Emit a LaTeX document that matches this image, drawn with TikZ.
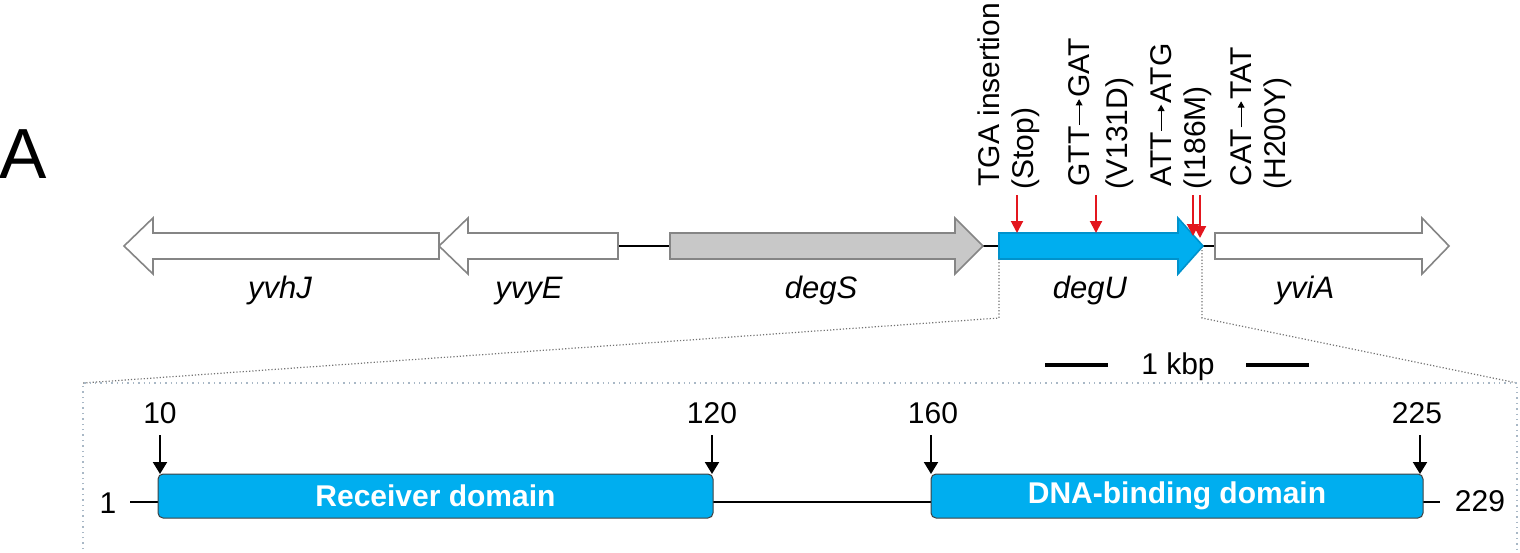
\documentclass[tikz,border=0pt]{standalone}
\usepackage{fontspec}
\setmainfont{Liberation Sans}
\usetikzlibrary{arrows.meta}
\definecolor{dblue}{HTML}{00AEEF}
\definecolor{dblueedge}{HTML}{0092CC}
\definecolor{mutred}{HTML}{E3161E}
\definecolor{genegray}{HTML}{C8C8C8}
\definecolor{edgegray}{HTML}{858585}
\definecolor{boxdot}{HTML}{A9B8C6}
\newcommand\mylongarr{\kern0.5pt\tikz[baseline=-0.33em]\draw[line width=0.55pt,-{Triangle[length=3.2pt,width=3.4pt]}] (0pt,0pt) -- (13pt,0pt);\kern0.5pt}
\tikzset{
  gene/.style={draw=edgegray, line width=0.8pt, fill=white, line join=miter},
  genelbl/.style={font=\fontsize{15.5}{18}\selectfont\itshape, anchor=base},
  mutlbl/.style={font=\fontsize{15}{18}\selectfont, rotate=90, anchor=base west, inner sep=0pt},
  mutarr/.style={draw=mutred, line width=1pt, -{Triangle[length=6pt,width=6pt]}},
  posarr/.style={draw=black, line width=1pt, -{Triangle[length=6pt,width=7pt]}},
  numlbl/.style={font=\fontsize{15}{18}\selectfont, anchor=base},
  domainbox/.style={draw=black!75, line width=0.5pt, fill=dblue, rounded corners=2.5pt,
    font=\fontsize{15}{18}\selectfont\bfseries, text=white, inner sep=0pt,
    minimum height=22pt},
  zoomline/.style={draw=black!55, line width=0.6pt, densely dotted},
  backbone/.style={draw=black, line width=1.3pt}
}
\begin{document}
\begin{tikzpicture}[x=0.5pt,y=-0.5pt]
\useasboundingbox (0,0) rectangle (1520,552);

% panel letter
\node[font=\fontsize{35.5}{40}\selectfont, anchor=base] (panelA) at (23,178) {A};

% gene backbone
\draw[backbone] (618,246) -- (1215,246);

% genes
\draw[gene] (439,233) -- (153,233) -- (153,218) -- (124,246) -- (153,274) -- (153,259) -- (439,259) -- cycle;
\draw[gene] (618,233) -- (468,233) -- (468,218) -- (439,246) -- (468,274) -- (468,259) -- (618,259) -- cycle;
\draw[gene, fill=genegray] (670,233) -- (955,233) -- (955,218) -- (983,246) -- (955,274) -- (955,259) -- (670,259) -- cycle;
\draw[gene, draw=dblueedge, fill=dblue] (999,233) -- (1178,233) -- (1178,218) -- (1203,246) -- (1178,274) -- (1178,259) -- (999,259) -- cycle;
\draw[gene] (1215,233) -- (1422,233) -- (1422,218) -- (1449,246) -- (1422,274) -- (1422,259) -- (1215,259) -- cycle;

% gene labels
\node[genelbl] (lyvhJ) at (280,298) {yvhJ};
\node[genelbl] (lyvyE) at (529,298) {yvyE};
\node[genelbl] (ldegS) at (821,298) {degS};
\node[genelbl] (ldegU) at (1090,298) {degU};
\node[genelbl] (lyviA) at (1305,298) {yviA};

% mutation labels
\node[mutlbl] (m1a) at (999,187) {TGA insertion};
\node[mutlbl] (m1b) at (1033,190) {(Stop)};
\node[mutlbl] (m2a) at (1089,187) {GTT\mylongarr GAT};
\node[mutlbl] (m2b) at (1127,190) {(V131D)};
\node[mutlbl] (m3a) at (1171,187) {ATT\mylongarr ATG};
\node[mutlbl] (m3b) at (1205,190) {(I186M)};
\node[mutlbl] (m4a) at (1251,187) {CAT\mylongarr TAT};
\node[mutlbl] (m4b) at (1285,190) {(H200Y)};

% mutation arrows
\coordinate (r1s) at (1017,195); \coordinate (r1e) at (1017,233);
\coordinate (r2s) at (1096,195); \coordinate (r2e) at (1096,233);
\coordinate (r3s) at (1193,195); \coordinate (r3e) at (1193,236);
\coordinate (r4s) at (1200,195); \coordinate (r4e) at (1200,238);
\draw[mutarr] (r1s) -- (r1e);
\draw[mutarr] (r2s) -- (r2e);
\draw[mutarr] (r3s) -- (r3e);
\draw[mutarr] (r4s) -- (r4e);

% zoom lines
\draw[zoomline] (999,259) -- (999,318) -- (83,383);
\draw[zoomline] (1202,250) -- (1202,318) -- (1517,383);

% scale bar
\draw[line width=1.6pt] (1045,365) -- (1108,365);
\draw[line width=1.6pt] (1246,365) -- (1309,365);
\node[numlbl] (kbp) at (1178,374) {1 kbp};

% inset frame
\draw[draw=boxdot, line width=0.7pt, dotted] (83,560) -- (83,383) -- (1517,383) -- (1517,560);

% domain backbone
\node[numlbl] (n1) at (108,513) {1};
\node[numlbl] (n229) at (1480,511) {229};
\draw[backbone] (130,502) -- (1440,502);

% domains
\node[domainbox, minimum width=277.5pt] (rec) at (435.5,496) {Receiver domain};
\node[domainbox, minimum width=246pt] (dna) at (1177,496) {DNA-binding domain};

% position labels and arrows
\node[numlbl] (n10) at (160,423) {10};
\node[numlbl] (n120) at (712,423) {120};
\node[numlbl] (n160) at (933,423) {160};
\node[numlbl] (n225) at (1417,423) {225};
\coordinate (a10) at (160,435);
\coordinate (a120) at (712,435);
\coordinate (a160) at (931,435);
\coordinate (a225) at (1420,435);
\draw[posarr] (a10) -- (160,474);
\draw[posarr] (a120) -- (712,474);
\draw[posarr] (a160) -- (931,474);
\draw[posarr] (a225) -- (1420,474);
\end{tikzpicture}
\end{document}
